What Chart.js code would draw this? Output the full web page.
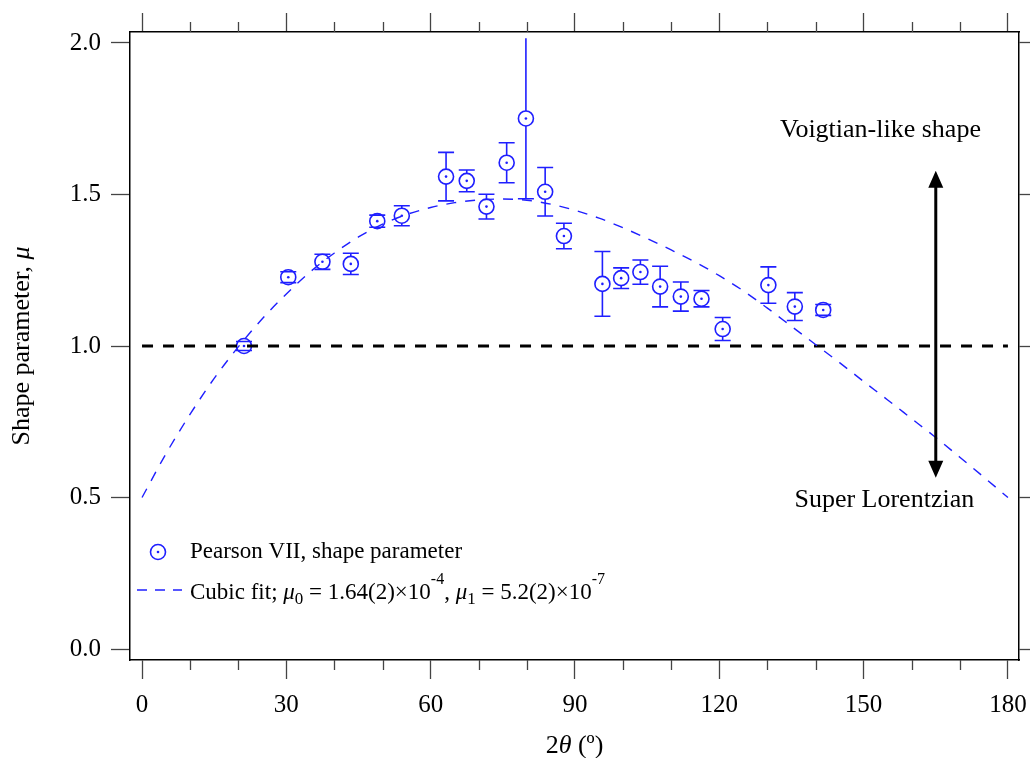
<!DOCTYPE html>
<html>
<head>
<meta charset="utf-8">
<script src="https://cdn.jsdelivr.net/npm/chart.js@4.4.1/dist/chart.umd.min.js"></script>
<style>
  html, body { margin: 0; padding: 0; background: #fff; }
  canvas { display: block; }
</style>
</head>
<body>
<canvas id="shapeChart" width="1030" height="758"></canvas>
<script>
// Pearson VII shape parameter vs scattering angle
const angles = [21.2, 30.4, 37.5, 43.4, 48.9, 54.0, 63.2, 67.5, 71.6, 75.8, 79.8, 83.8, 87.7,
                95.7, 99.6, 103.6, 107.7, 112.0, 116.3, 120.7, 130.2, 135.7, 141.6];
const shapeMu = [1.000, 1.227, 1.278, 1.271, 1.412, 1.430, 1.559, 1.545, 1.460, 1.605, 1.751, 1.509, 1.363,
                 1.205, 1.224, 1.244, 1.196, 1.163, 1.156, 1.056, 1.201, 1.130, 1.119];
const shapeErr = [0.015, 0.018, 0.025, 0.035, 0.020, 0.033, 0.080, 0.036, 0.041, 0.066, 0.265, 0.080, 0.042,
                  0.107, 0.034, 0.040, 0.067, 0.048, 0.027, 0.038, 0.060, 0.046, 0.018];

// cubic fit curve
const fitAngles = [0, 5, 10, 15, 20, 25, 30, 35, 40, 45, 50, 55, 60, 65, 70, 75, 80, 85, 90,
                   95, 100, 105, 110, 115, 120, 125, 130, 135, 140, 145, 150, 155, 160, 165, 170, 175, 180];
const fitMu = [0.500, 0.645, 0.775, 0.893, 0.997, 1.090, 1.172, 1.245, 1.307, 1.360, 1.402, 1.434, 1.457,
               1.473, 1.482, 1.485, 1.481, 1.468, 1.448, 1.422, 1.390, 1.355, 1.317, 1.277, 1.232, 1.182,
               1.125, 1.065, 1.005, 0.945, 0.883, 0.822, 0.760, 0.698, 0.633, 0.567, 0.500];

// mu = 1 reference line and the double arrow
const unityX = [0, 180];
const unityMu = [1.0, 1.0];
const arrowX = 165;
const arrowMu = [0.565, 1.578];

const xTicks = [0, 30, 60, 90, 120, 150, 180];
const xMinorTicks = [10, 20, 40, 50, 70, 80, 100, 110, 130, 140, 160, 170];
const yTicks = [0.0, 0.5, 1.0, 1.5, 2.0];

const BLUE = '#1f1fff';
const SERIF = '"Liberation Serif", "Times New Roman", serif';
const MARKER_R = 7.5;

function pts(xs, ys) {
    return xs.map((x, i) => ({ x: x, y: ys[i] }));
}

// draws a list of text runs: {t, it, sub, sup}
function drawRuns(ctx, runs, x, y, size) {
    let cx = x;
    runs.forEach(r => {
        let s = size, dy = 0;
        if (r.sub) { s = Math.round(size * 0.72); dy = 5; }
        if (r.sup) { s = Math.round(size * 0.68); dy = -15; }
        ctx.font = (r.it ? 'italic ' : '') + s + 'px ' + SERIF;
        ctx.fillText(r.t, cx, y + dy);
        cx += ctx.measureText(r.t).width;
    });
    return cx - x;
}

function runsWidth(ctx, runs, size) {
    let w = 0;
    runs.forEach(r => {
        let s = size;
        if (r.sub) s = Math.round(size * 0.72);
        if (r.sup) s = Math.round(size * 0.68);
        ctx.font = (r.it ? 'italic ' : '') + s + 'px ' + SERIF;
        w += ctx.measureText(r.t).width;
    });
    return w;
}

const errorBars = {
    id: 'errorBars',
    afterDatasetsDraw(chart) {
        const ctx = chart.ctx, xs = chart.scales.x, ys = chart.scales.y;
        const area = chart.chartArea;
        ctx.save();
        ctx.beginPath();
        ctx.rect(area.left, area.top, area.right - area.left, area.bottom - area.top);
        ctx.clip();
        ctx.strokeStyle = BLUE;
        ctx.lineWidth = 1.6;
        angles.forEach((a, i) => {
            const px = xs.getPixelForValue(a);
            const py = ys.getPixelForValue(shapeMu[i]);
            const hi = shapeMu[i] + shapeErr[i], lo = shapeMu[i] - shapeErr[i];
            const top = ys.getPixelForValue(hi), bot = ys.getPixelForValue(lo);
            ctx.beginPath();
            if (top < py - MARKER_R) { ctx.moveTo(px, py - MARKER_R); ctx.lineTo(px, top); }
            if (bot > py + MARKER_R) { ctx.moveTo(px, py + MARKER_R); ctx.lineTo(px, bot); }
            if (hi <= 2.0) { ctx.moveTo(px - 8, top); ctx.lineTo(px + 8, top); }
            ctx.moveTo(px - 8, bot); ctx.lineTo(px + 8, bot);
            ctx.stroke();
        });
        ctx.restore();
    }
};

const decorations = {
    id: 'decorations',
    afterDraw(chart) {
        const ctx = chart.ctx, xs = chart.scales.x, ys = chart.scales.y;
        const area = chart.chartArea;
        ctx.save();

        // minor ticks, top and bottom
        ctx.strokeStyle = '#444';
        ctx.lineWidth = 1.3;
        ctx.beginPath();
        xMinorTicks.forEach(v => {
            const px = Math.round(xs.getPixelForValue(v)) + 0.5;
            ctx.moveTo(px, area.bottom); ctx.lineTo(px, area.bottom + 10);
            ctx.moveTo(px, area.top); ctx.lineTo(px, area.top - 10);
        });
        ctx.stroke();

        // double arrow
        const ax = xs.getPixelForValue(arrowX);
        const ay0 = ys.getPixelForValue(arrowMu[0]);
        const ay1 = ys.getPixelForValue(arrowMu[1]);
        ctx.strokeStyle = '#000';
        ctx.fillStyle = '#000';
        ctx.lineWidth = 3;
        ctx.beginPath();
        ctx.moveTo(ax, ay1 + 14); ctx.lineTo(ax, ay0 - 14);
        ctx.stroke();
        ctx.beginPath();
        ctx.moveTo(ax, ay1); ctx.lineTo(ax - 7.5, ay1 + 17); ctx.lineTo(ax + 7.5, ay1 + 17); ctx.closePath();
        ctx.moveTo(ax, ay0); ctx.lineTo(ax - 7.5, ay0 - 17); ctx.lineTo(ax + 7.5, ay0 - 17); ctx.closePath();
        ctx.fill();

        // annotations
        ctx.font = '26px ' + SERIF;
        ctx.textAlign = 'center';
        ctx.textBaseline = 'alphabetic';
        ctx.fillText('Voigtian-like shape', xs.getPixelForValue(153.5), ys.getPixelForValue(1.72) + 9);
        ctx.fillText('Super Lorentzian', xs.getPixelForValue(154.3), ys.getPixelForValue(0.50) + 9);

        // legend
        ctx.textAlign = 'left';
        const lx = area.left;
        ctx.strokeStyle = BLUE;
        ctx.fillStyle = BLUE;
        ctx.lineWidth = 1.6;
        ctx.beginPath();
        ctx.arc(lx + 28, 552, MARKER_R, 0, Math.PI * 2);
        ctx.stroke();
        ctx.beginPath();
        ctx.arc(lx + 28, 552, 1.3, 0, Math.PI * 2);
        ctx.fill();
        ctx.lineWidth = 1.4;
        ctx.setLineDash([10, 8]);
        ctx.beginPath();
        ctx.moveTo(lx + 7, 590); ctx.lineTo(lx + 52, 590);
        ctx.stroke();
        ctx.setLineDash([]);

        ctx.fillStyle = '#000';
        drawRuns(ctx, [{ t: 'Pearson VII, shape parameter' }], lx + 60, 558, 23);
        drawRuns(ctx, [
            { t: 'Cubic fit; ' }, { t: 'μ', it: true }, { t: '0', sub: true },
            { t: ' = 1.64(2)×10' }, { t: '-4', sup: true }, { t: ', ' },
            { t: 'μ', it: true }, { t: '1', sub: true },
            { t: ' = 5.2(2)×10' }, { t: '-7', sup: true }
        ], lx + 60, 599, 23);

        // axis titles
        const xTitle = [{ t: '2' }, { t: 'θ', it: true }, { t: ' (º)' }];
        const xw = runsWidth(ctx, xTitle, 26);
        drawRuns(ctx, xTitle, (area.left + area.right) / 2 - xw / 2, 753, 26);

        const yTitle = [{ t: 'Shape parameter, ' }, { t: 'μ', it: true }];
        const yw = runsWidth(ctx, yTitle, 26);
        ctx.translate(29, (area.top + area.bottom) / 2);
        ctx.rotate(-Math.PI / 2);
        drawRuns(ctx, yTitle, -yw / 2, 0, 26);

        ctx.restore();
    }
};

function axisOptions(position, showLabels, size, values, fmt) {
    const horizontal = position === 'top' || position === 'bottom';
    return {
        type: 'linear',
        position: position,
        min: horizontal ? -2.5 : -0.0363,
        max: horizontal ? 182.3 : 2.0363,
        afterBuildTicks: s => { s.ticks = values.map(v => ({ value: v })); },
        afterFit: s => {
            if (horizontal) s.height = size; else s.width = size;
            // keep the frame fixed: no extra room for overhanging labels
            s.paddingLeft = 0; s.paddingRight = 0; s.paddingTop = 0; s.paddingBottom = 0;
        },
        ticks: {
            display: showLabels,
            autoSkip: false,
            maxRotation: 0,
            padding: horizontal ? 11 : 10,
            color: '#000',
            font: { family: SERIF, size: 25 },
            callback: fmt
        },
        grid: {
            drawOnChartArea: false,
            drawTicks: true,
            tickLength: 19,
            tickColor: '#444',
            tickWidth: 1.3
        },
        border: { display: true, color: '#000', width: 1.5 }
    };
}

function renderChart() {
    const ctx = document.getElementById('shapeChart').getContext('2d');
    new Chart(ctx, {
        type: 'scatter',
        data: {
            datasets: [
                {
                    type: 'line',
                    label: 'Cubic fit',
                    data: pts(fitAngles, fitMu),
                    borderColor: BLUE,
                    borderWidth: 1.4,
                    borderDash: [10, 9],
                    pointRadius: 0,
                    fill: false,
                    cubicInterpolationMode: 'monotone'
                },
                {
                    type: 'line',
                    label: 'mu = 1',
                    data: pts(unityX, unityMu),
                    borderColor: '#000',
                    borderWidth: 3,
                    borderDash: [11, 10],
                    pointRadius: 0,
                    fill: false
                },
                {
                    label: 'Pearson VII, shape parameter',
                    data: pts(angles, shapeMu),
                    pointStyle: 'circle',
                    pointRadius: MARKER_R,
                    borderColor: BLUE,
                    borderWidth: 1.6,
                    backgroundColor: 'rgba(0,0,0,0)'
                },
                {
                    label: 'centre',
                    data: pts(angles, shapeMu),
                    pointRadius: 1.3,
                    borderWidth: 0,
                    backgroundColor: BLUE
                }
            ]
        },
        options: {
            responsive: false,
            animation: false,
            devicePixelRatio: 1,
            layout: { padding: 0 },
            plugins: { legend: { display: false }, tooltip: { enabled: false } },
            scales: {
                x: axisOptions('bottom', true, 98, xTicks, v => String(v)),
                x2: axisOptions('top', false, 32, xTicks, v => ''),
                y: axisOptions('left', true, 130, yTicks, v => v.toFixed(1)),
                y2: axisOptions('right', false, 11, yTicks, v => '')
            }
        },
        plugins: [errorBars, decorations]
    });
}

renderChart();
</script>
</body>
</html>
